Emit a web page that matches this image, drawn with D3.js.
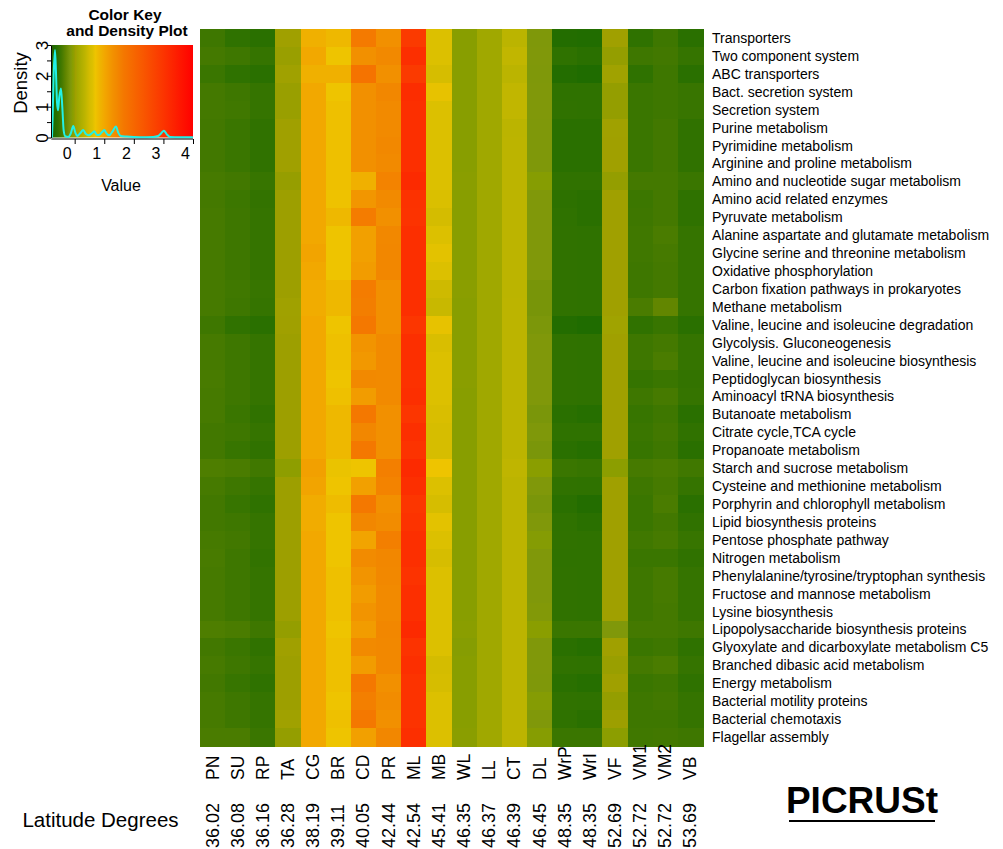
<!DOCTYPE html>
<html>
<head>
<meta charset="utf-8">
<script src="https://cdn.jsdelivr.net/npm/d3@7"></script>
<style>
  html, body { margin: 0; padding: 0; background: #ffffff; }
  svg { display: block; font-family: "Liberation Sans", Arial, Helvetica, sans-serif; }
</style>
</head>
<body>
<svg id="chart" width="1003" height="849"></svg>
<script>
// Sample sites (columns) and their latitudes
const sites = ["PN","SU","RP","TA","CG","BR","CD","PR","ML","MB","WL","LL","CT","DL","WrP","WrI","VF","VM1","VM2","VB"];
const latitudes = ["36.02","36.08","36.16","36.28","38.19","39.11","40.05","42.44","42.54","45.41","46.35","46.37","46.39","46.45","48.35","48.35","52.69","52.72","52.72","53.69"];

// Predicted functional categories (rows)
const pathways = [
  "Transporters","Two component system","ABC transporters","Bact. secretion system","Secretion system",
  "Purine metabolism","Pyrimidine metabolism","Arginine and proline metabolism","Amino and nucleotide sugar metabolism",
  "Amino acid related enzymes","Pyruvate metabolism","Alanine aspartate and glutamate metabolism",
  "Glycine serine and threonine metabolism","Oxidative phosphorylation","Carbon fixation pathways in prokaryotes",
  "Methane metabolism","Valine, leucine and isoleucine degradation","Glycolysis. Gluconeogenesis",
  "Valine, leucine and isoleucine biosynthesis","Peptidoglycan biosynthesis","Aminoacyl tRNA biosynthesis",
  "Butanoate metabolism","Citrate cycle,TCA cycle","Propanoate metabolism","Starch and sucrose metabolism",
  "Cysteine and methionine metabolism","Porphyrin and chlorophyll metabolism","Lipid biosynthesis proteins",
  "Pentose phosphate pathway","Nitrogen metabolism","Phenylalanine/tyrosine/tryptophan synthesis",
  "Fructose and mannose metabolism","Lysine biosynthesis","Lipopolysaccharide biosynthesis proteins",
  "Glyoxylate and dicarboxylate metabolism C5","Branched dibasic acid metabolism","Energy metabolism",
  "Bacterial motility proteins","Bacterial chemotaxis","Flagellar assembly"
];

// Row-scaled abundance (one row per pathway, one value per site)
const scaledValues = [
  [-0.47,-0.56,-0.59, 0.03,0.91,0.82,1.62,1.30,2.90,0.60,-0.07,0.10,0.33,-0.13,-0.65,-0.66, 0.03,-0.56,-0.47,-0.59],
  [-0.44,-0.47,-0.52, 0.01,1.00,0.70,1.30,1.42,3.10,0.60,-0.07,0.10,0.37,-0.12,-0.56,-0.59,-0.01,-0.47,-0.45,-0.52],
  [-0.49,-0.56,-0.59, 0.04,0.91,0.91,1.75,1.30,2.90,0.53,-0.07,0.10,0.33,-0.13,-0.65,-0.68, 0.05,-0.56,-0.47,-0.59],
  [-0.44,-0.47,-0.52, 0.01,1.00,0.70,1.30,1.45,3.15,0.66,-0.07,0.10,0.37,-0.12,-0.56,-0.56,-0.01,-0.49,-0.47,-0.50],
  [-0.44,-0.46,-0.52, 0.01,1.00,0.74,1.30,1.40,3.10,0.60,-0.07,0.10,0.37,-0.12,-0.55,-0.56,-0.01,-0.49,-0.47,-0.50],
  [-0.45,-0.49,-0.55, 0.03,1.00,0.74,1.30,1.40,3.10,0.60,-0.07,0.10,0.33,-0.13,-0.59,-0.59, 0.04,-0.49,-0.45,-0.55],
  [-0.45,-0.49,-0.55, 0.03,1.00,0.74,1.30,1.43,3.10,0.60,-0.07,0.10,0.34,-0.13,-0.59,-0.59, 0.03,-0.49,-0.45,-0.55],
  [-0.45,-0.49,-0.55, 0.03,1.00,0.74,1.30,1.40,3.10,0.60,-0.07,0.10,0.34,-0.13,-0.59,-0.59, 0.03,-0.49,-0.45,-0.55],
  [-0.43,-0.45,-0.51, 0.00,1.00,0.74,0.91,1.50,3.20,0.60,-0.06,0.10,0.34,-0.08,-0.55,-0.55,-0.01,-0.44,-0.44,-0.49],
  [-0.44,-0.48,-0.53, 0.02,1.00,0.72,1.22,1.40,3.05,0.57,-0.07,0.10,0.34,-0.12,-0.57,-0.59, 0.03,-0.48,-0.44,-0.56],
  [-0.43,-0.47,-0.52, 0.02,1.00,0.82,1.60,1.30,3.03,0.50,-0.07,0.10,0.34,-0.12,-0.56,-0.59, 0.03,-0.47,-0.44,-0.56],
  [-0.43,-0.47,-0.52, 0.02,1.00,0.70,1.10,1.43,3.10,0.60,-0.07,0.10,0.34,-0.12,-0.55,-0.56, 0.03,-0.46,-0.41,-0.52],
  [-0.43,-0.47,-0.52, 0.02,1.05,0.70,1.10,1.45,3.10,0.64,-0.07,0.10,0.34,-0.12,-0.55,-0.56, 0.03,-0.46,-0.43,-0.52],
  [-0.43,-0.47,-0.52, 0.02,1.00,0.70,1.15,1.45,3.10,0.60,-0.07,0.10,0.34,-0.12,-0.55,-0.56, 0.03,-0.47,-0.44,-0.52],
  [-0.43,-0.46,-0.51, 0.02,0.95,0.82,1.60,1.30,3.10,0.46,-0.06,0.10,0.33,-0.17,-0.55,-0.56, 0.03,-0.47,-0.44,-0.52],
  [-0.43,-0.47,-0.52, 0.04,0.95,0.82,1.57,1.30,3.10,0.42,-0.07,0.10,0.34,-0.17,-0.55,-0.56, 0.03,-0.41,-0.30,-0.52],
  [-0.47,-0.55,-0.59, 0.03,1.00,0.70,1.65,1.30,2.97,0.66,-0.07,0.10,0.34,-0.15,-0.65,-0.68, 0.06,-0.55,-0.50,-0.59],
  [-0.43,-0.47,-0.52, 0.02,1.00,0.74,1.25,1.40,3.10,0.56,-0.07,0.10,0.34,-0.12,-0.55,-0.56, 0.03,-0.47,-0.44,-0.52],
  [-0.43,-0.47,-0.52, 0.02,1.00,0.74,1.20,1.40,3.10,0.60,-0.07,0.10,0.34,-0.12,-0.55,-0.56, 0.03,-0.47,-0.41,-0.52],
  [-0.42,-0.47,-0.52, 0.02,1.00,0.70,1.42,1.40,3.07,0.60,-0.06,0.10,0.34,-0.12,-0.55,-0.56, 0.03,-0.52,-0.49,-0.53],
  [-0.43,-0.47,-0.52, 0.02,1.00,0.74,1.15,1.40,3.10,0.60,-0.07,0.10,0.34,-0.12,-0.55,-0.56, 0.03,-0.47,-0.43,-0.52],
  [-0.43,-0.49,-0.55, 0.02,1.00,0.82,1.65,1.30,2.97,0.56,-0.07,0.10,0.34,-0.16,-0.59,-0.62, 0.03,-0.51,-0.47,-0.59],
  [-0.45,-0.47,-0.52, 0.02,1.00,0.82,1.45,1.30,3.10,0.53,-0.07,0.10,0.34,-0.13,-0.56,-0.56, 0.03,-0.49,-0.45,-0.55],
  [-0.45,-0.51,-0.55, 0.02,1.00,0.82,1.65,1.30,3.03,0.53,-0.07,0.10,0.34,-0.16,-0.59,-0.62, 0.03,-0.51,-0.47,-0.59],
  [-0.39,-0.41,-0.46,-0.04,1.10,0.68,0.70,1.55,3.20,0.70,-0.07,0.10,0.36,-0.06,-0.49,-0.51,-0.05,-0.43,-0.41,-0.46],
  [-0.43,-0.47,-0.52, 0.02,1.05,0.70,1.10,1.50,3.10,0.60,-0.07,0.10,0.34,-0.12,-0.55,-0.56, 0.03,-0.47,-0.43,-0.52],
  [-0.45,-0.51,-0.56, 0.02,0.95,0.78,1.65,1.30,2.97,0.53,-0.07,0.10,0.34,-0.16,-0.59,-0.65, 0.03,-0.49,-0.41,-0.59],
  [-0.45,-0.47,-0.52, 0.02,0.95,0.70,1.45,1.37,3.03,0.64,-0.07,0.10,0.34,-0.12,-0.56,-0.59, 0.03,-0.49,-0.45,-0.55],
  [-0.43,-0.45,-0.52, 0.02,1.00,0.70,1.05,1.55,3.10,0.60,-0.07,0.10,0.34,-0.09,-0.55,-0.56, 0.03,-0.46,-0.43,-0.51],
  [-0.42,-0.47,-0.54, 0.02,1.00,0.70,1.38,1.45,3.10,0.53,-0.07,0.10,0.34,-0.12,-0.56,-0.56, 0.03,-0.49,-0.49,-0.55],
  [-0.43,-0.47,-0.52, 0.02,1.00,0.74,1.25,1.43,3.03,0.60,-0.07,0.10,0.34,-0.12,-0.55,-0.56, 0.03,-0.47,-0.43,-0.52],
  [-0.43,-0.47,-0.52, 0.02,1.00,0.74,1.15,1.40,3.10,0.60,-0.07,0.10,0.34,-0.12,-0.55,-0.56, 0.03,-0.47,-0.43,-0.52],
  [-0.43,-0.47,-0.52, 0.02,1.00,0.74,1.25,1.40,3.10,0.60,-0.07,0.10,0.34,-0.11,-0.55,-0.56, 0.03,-0.47,-0.44,-0.52],
  [-0.39,-0.41,-0.47,-0.01,1.00,0.70,1.15,1.45,3.20,0.60,-0.06,0.10,0.34,-0.06,-0.49,-0.49,-0.12,-0.44,-0.44,-0.47],
  [-0.45,-0.49,-0.55, 0.03,1.00,0.74,1.40,1.43,3.03,0.60,-0.08,0.10,0.34,-0.12,-0.59,-0.62, 0.03,-0.49,-0.47,-0.56],
  [-0.43,-0.47,-0.52, 0.02,1.00,0.74,1.15,1.43,3.10,0.50,-0.07,0.10,0.34,-0.12,-0.55,-0.56, 0.01,-0.44,-0.41,-0.52],
  [-0.45,-0.51,-0.56, 0.02,1.00,0.74,1.65,1.30,3.03,0.53,-0.07,0.10,0.34,-0.13,-0.59,-0.62, 0.03,-0.49,-0.47,-0.56],
  [-0.43,-0.47,-0.52, 0.02,1.00,0.70,1.55,1.37,3.03,0.60,-0.07,0.10,0.34,-0.09,-0.55,-0.56,-0.01,-0.47,-0.45,-0.52],
  [-0.43,-0.47,-0.52, 0.04,1.00,0.74,1.65,1.30,3.03,0.60,-0.07,0.10,0.34,-0.12,-0.56,-0.59, 0.02,-0.47,-0.47,-0.52],
  [-0.41,-0.41,-0.49,-0.01,1.00,0.70,1.10,1.45,3.10,0.60,-0.06,0.10,0.34,-0.08,-0.49,-0.49,-0.05,-0.46,-0.45,-0.47]
];

// Density of all scaled values (value, density) as plotted over the color key
const densityValue  = [-0.767,-0.747,-0.711,-0.666,-0.632,-0.598,-0.564,-0.520,-0.463,-0.418,-0.372,-0.317,-0.216,-0.136,-0.047,0.022,0.089,0.179,0.291,0.381,0.472,0.573,0.662,0.743,0.821,0.911,1.001,1.080,1.170,1.282,1.395,1.473,1.553,1.756,2.206,2.657,2.825,2.926,3.017,3.107,3.219,3.558,3.997];
const densityHeight = [0.00, 0.61, 2.02, 2.84, 2.13, 1.15, 0.88, 1.31, 1.59, 0.99, 0.23, 0.04, 0.02, 0.12, 0.37, 0.16, 0.05, 0.13, 0.24, 0.11, 0.07, 0.13, 0.20, 0.09, 0.08, 0.16, 0.24, 0.13, 0.07, 0.20, 0.36, 0.16, 0.05, 0.03, 0.01, 0.02, 0.05, 0.14, 0.22, 0.11, 0.02, 0.01, 0.01];

// Colour key ticks
const keyTicks = [0, 1, 2, 3, 4];
const densityTicks = [0, 0.5, 1, 1.5, 2, 2.5, 3];

// Green - olive - yellow - orange - red ramp
const rampStops  = [-0.79,-0.68,-0.59,-0.55,-0.49,-0.45,-0.41,-0.30,-0.16,-0.12,-0.07,0.00,0.03,0.10,0.34,0.50,0.60,0.70,0.82,1.00,1.15,1.30,1.43,1.65,2.30,3.05,4.00];
const rampColors = ["#2a5e00","#1f6c00","#2a7000","#307200","#3a7600","#427800","#4a7c00","#628600","#7a960a","#80980a","#889e00","#969e00","#a0a000","#a0a800","#bcb400","#d4bc00","#dcc000","#eec400","#eeb800","#f2a800","#f29c00","#f29000","#f28800","#f47800","#f85800","#fc3200","#ff0000"];

const color = d3.scaleLinear().domain(rampStops).range(rampColors)
  .interpolate(d3.interpolateRgb).clamp(true);

const svg = d3.select("#chart");

// ---------- heatmap ----------
const x = d3.scaleBand().domain(sites).range([200, 703]);
const y = d3.scaleBand().domain(pathways).range([29, 746]);

const cells = [];
scaledValues.forEach((row, i) => row.forEach((v, j) => cells.push({ row: pathways[i], col: sites[j], v })));

svg.append("g").selectAll("rect").data(cells).join("rect")
  .attr("x", d => x(d.col))
  .attr("y", d => y(d.row))
  .attr("width", x.bandwidth() + 0.5)
  .attr("height", y.bandwidth() + 0.5)
  .attr("fill", d => color(d.v))
  .attr("shape-rendering", "crispEdges");

// Row labels
svg.append("g").selectAll("text").data(pathways).join("text")
  .attr("x", 712)
  .attr("y", d => y(d) + y.bandwidth() / 2 + 5)
  .attr("font-size", 14)
  .attr("fill", "#000")
  .text(d => d);

// Site labels
svg.append("g").selectAll("text").data(sites).join("text")
  .attr("transform", d => `translate(${x(d) + x.bandwidth() / 2 + 6},780) rotate(-90)`)
  .attr("font-size", 17.5)
  .attr("text-anchor", "start")
  .text(d => d);

// Latitude labels
svg.append("g").selectAll("text").data(latitudes).join("text")
  .attr("transform", (d, i) => `translate(${x(sites[i]) + x.bandwidth() / 2 + 6},848) rotate(-90)`)
  .attr("font-size", 18)
  .attr("text-anchor", "start")
  .text(d => d);

svg.append("text")
  .attr("x", 100.5).attr("y", 827)
  .attr("text-anchor", "middle")
  .attr("font-size", 20.5)
  .text("Latitude Degrees");

// Method caption
svg.append("text")
  .attr("x", 862).attr("y", 813)
  .attr("text-anchor", "middle")
  .attr("font-size", 37)
  .attr("font-weight", "bold")
  .text("PICRUSt");
svg.append("line")
  .attr("x1", 789).attr("x2", 935)
  .attr("y1", 821).attr("y2", 821)
  .attr("stroke", "#000").attr("stroke-width", 2.2);

// ---------- colour key with density ----------
const kx = d3.scaleLinear().domain([-0.79, 4.0]).range([51.3, 193]);
const ky = d3.scaleLinear().domain([0, 3]).range([137.5, 45]);

const defs = svg.append("defs");
const grad = defs.append("linearGradient").attr("id", "keyGrad")
  .attr("x1", "0%").attr("x2", "100%").attr("y1", "0%").attr("y2", "0%");
const [k0, k1] = kx.domain();
const gradPoints = [k0].concat(rampStops.filter(s => s > k0 && s < k1), [k1]);
grad.selectAll("stop").data(gradPoints).join("stop")
  .attr("offset", d => ((d - k0) / (k1 - k0) * 100) + "%")
  .attr("stop-color", d => color(d));

svg.append("rect")
  .attr("x", kx(k0)).attr("y", ky(3))
  .attr("width", kx(k1) - kx(k0)).attr("height", ky(0) - ky(3))
  .attr("fill", "url(#keyGrad)");

const line = d3.line()
  .x((d, i) => kx(densityValue[i]))
  .y(d => ky(d))
  .curve(d3.curveMonotoneX);

svg.append("path")
  .attr("d", line(densityHeight))
  .attr("fill", "none")
  .attr("stroke", "#22f0e6")
  .attr("stroke-width", 2);

// x axis of key
const xAxis = svg.append("g").attr("transform", "translate(0,139)")
  .call(d3.axisBottom(kx).tickValues(keyTicks).tickSize(5).tickSizeOuter(0).tickFormat(d3.format("d")));
xAxis.select(".domain").attr("d", `M${kx(k0)},0H${kx(k1)}`).attr("stroke", "#000");
xAxis.selectAll("text").attr("font-size", 16).attr("font-family", "Liberation Sans, Arial, sans-serif")
  .attr("dx", -8).attr("dy", 12).attr("fill", "#000");
xAxis.selectAll(".tick line").attr("stroke", "#000");

svg.append("text").attr("x", 121).attr("y", 191)
  .attr("text-anchor", "middle").attr("font-size", 16).text("Value");

// y axis of key
const yAxis = svg.append("g").attr("transform", "translate(51,0)")
  .call(d3.axisLeft(ky).tickValues(densityTicks).tickSize(4).tickSizeOuter(0).tickFormat(d3.format("d")));
yAxis.select(".domain").attr("stroke", "#000");
yAxis.selectAll(".tick line").attr("stroke", "#000");
yAxis.selectAll("text").remove();
yAxis.selectAll(".tick").filter(d => Number.isInteger(d)).append("text")
  .attr("transform", "translate(-3,0) rotate(-90)")
  .attr("text-anchor", "middle")
  .attr("font-size", 17)
  .attr("font-family", "Liberation Sans, Arial, sans-serif")
  .attr("fill", "#000")
  .text(d => d);

svg.append("text")
  .attr("transform", "translate(27,83) rotate(-90)")
  .attr("text-anchor", "middle")
  .attr("font-size", 18.5)
  .text("Density");

// key title
svg.append("text").attr("x", 125).attr("y", 20)
  .attr("text-anchor", "middle").attr("font-size", 15.5).attr("font-weight", "bold")
  .text("Color Key");
svg.append("text").attr("x", 127).attr("y", 36)
  .attr("text-anchor", "middle").attr("font-size", 15.5).attr("font-weight", "bold")
  .text("and Density Plot");
</script>
</body>
</html>
